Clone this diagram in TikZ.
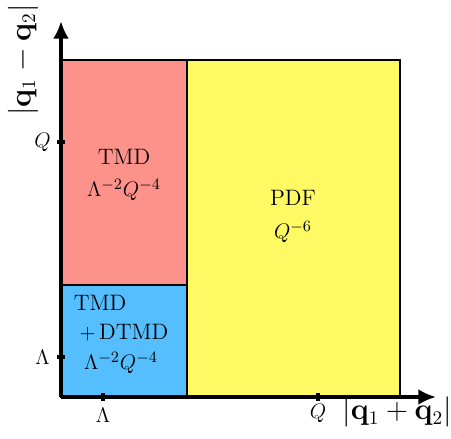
\documentclass[tikz,border=0pt]{standalone}
\usepackage{amsmath,amssymb}
\usepackage{xcolor}
\usepackage{tikz}
\usetikzlibrary{arrows.meta,positioning}
\definecolor{tmdred}{RGB}{252,146,138}
\definecolor{dtmdblue}{RGB}{84,190,255}
\definecolor{pdfyellow}{RGB}{255,250,100}
\tikzset{
  region/.style={draw=black,line width=1.1pt},
  axis/.style={line width=2.2pt,-{Latex[length=10pt,width=9pt]}},
  tick/.style={line width=2pt},
  lbl/.style={font=\fontsize{12.7}{15}\selectfont},
  axlbl/.style={font=\fontsize{16}{19}\selectfont}
}

\begin{document}
\begin{tikzpicture}[x=0.02cm,y=0.02cm]
\useasboundingbox (-61,-42) rectangle (390,397);
% regions
\fill[pdfyellow] (126,0) rectangle (339,337);
\fill[tmdred] (0,112) rectangle (126,337);
\fill[dtmdblue] (0,0) rectangle (126,112);
\draw[region] (0,0) rectangle (126,112);
\draw[region] (0,112) rectangle (126,337);
\draw[region] (126,0) rectangle (339,337);
% labels in regions
\node[lbl] (tmd) at (63,240) {TMD};
\node[lbl] (tmdpow) at (63,207) {$\Lambda^{-2}Q^{-4}$};
\node[lbl] (pdf) at (232,199) {PDF};
\node[lbl] (pdfpow) at (232,165) {$Q^{-6}$};
\node[lbl] (btmd) at (39,94) {TMD};
\node[lbl] (bdtmd) at (63,64) {$+\,$DTMD};
\node[lbl] (bpow) at (60,34) {$\Lambda^{-2}Q^{-4}$};
% axes
\coordinate (o) at (0,0);
\coordinate (xend) at (375,0);
\coordinate (yend) at (0,376);
\draw[axis] (o) -- (xend);
\draw[axis] (o) -- (yend);
\node[axlbl] (xlab) at (336,-15) {$|\mathbf{q}_1+\mathbf{q}_2|$};
\node[axlbl,rotate=90] (ylab) at (-38,337) {$|\mathbf{q}_1-\mathbf{q}_2|$};
% ticks
\draw[tick] (-4,255) -- (4,255);
\draw[tick] (-4,40) -- (4,40);
\draw[tick] (42,-4) -- (42,4);
\draw[tick] (257,-4) -- (257,4);
\node[lbl,anchor=east] (yq) at (-4,255) {$Q$};
\node[lbl,anchor=east] (yl) at (-5,40) {$\Lambda$};
\node[lbl,anchor=north] (xl) at (42,-5) {$\Lambda$};
\node[lbl,anchor=north] (xq) at (257,-1) {$Q$};
\end{tikzpicture}
\end{document}
